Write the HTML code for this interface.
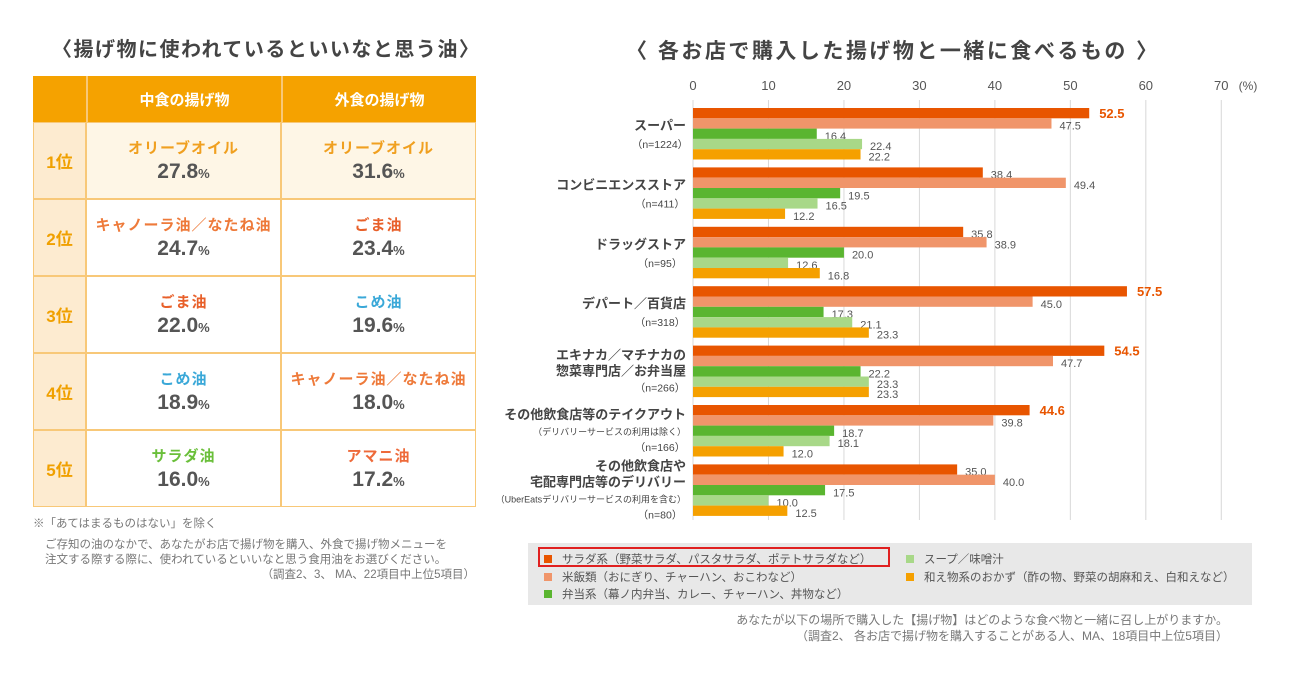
<!DOCTYPE html>
<html><head><meta charset="utf-8">
<style>
body{margin:0;width:1314px;height:682px;background:#fff;font-family:"Liberation Sans","Noto Sans CJK JP",sans-serif;position:relative;overflow:hidden;color:#444}
.a{position:absolute}
.cell{position:absolute;box-sizing:border-box;display:flex;flex-direction:column;align-items:center;justify-content:center;text-align:center}
.nm{font-size:15px;font-weight:bold;letter-spacing:1px}
.vl{font-size:21px;font-weight:bold;color:#555;margin-top:2px}
.vl small{font-size:13px}
.rk{font-size:17px;font-weight:bold;color:#f0a000}
</style></head><body>
<div class="a" style="left:52px;top:33px;font-size:20px;font-weight:bold;color:#444;letter-spacing:1.5px">〈揚げ物に使われているといいなと思う油〉</div>
<div id="tbl"></div>
<div class="a" style="left:33px;top:515px;font-size:11.5px;color:#777">※「あてはまるものはない」を除く</div>
<div class="a" style="left:45px;top:538px;font-size:11.5px;color:#777;line-height:15px;width:430px">ご存知の油のなかで、あなたがお店で揚げ物を購入、外食で揚げ物メニューを<br>注文する際する際に、使われているといいなと思う食用油をお選びください。<div style="text-align:right">（調査2、3、 MA、22項目中上位5項目）</div></div>
<div class="a" style="left:626px;top:35px;font-size:21px;font-weight:bold;color:#444;letter-spacing:2.5px">〈 各お店で購入した揚げ物と一緒に食べるもの 〉</div>
<svg id="chart" class="a" style="left:0;top:0" width="1314" height="682"></svg>
<div class="a" style="left:528px;top:543px;width:724px;height:62px;background:#e8e8e8;font-size:11.5px;color:#555">
 <div class="a" style="left:10px;top:4px;width:352px;height:20px;border:2px solid #e02020;box-sizing:border-box"></div>
 <div class="a" style="left:16px;top:8px"><span style="display:inline-block;width:8px;height:8px;background:#e85500;margin-right:10px"></span>サラダ系（野菜サラダ、パスタサラダ、ポテトサラダなど）</div>
 <div class="a" style="left:16px;top:26px"><span style="display:inline-block;width:8px;height:8px;background:#f0956a;margin-right:10px"></span>米飯類（おにぎり、チャーハン、おこわなど）</div>
 <div class="a" style="left:16px;top:43px"><span style="display:inline-block;width:8px;height:8px;background:#5ab530;margin-right:10px"></span>弁当系（幕ノ内弁当、カレー、チャーハン、丼物など）</div>
 <div class="a" style="left:378px;top:8px"><span style="display:inline-block;width:8px;height:8px;background:#a8d888;margin-right:10px"></span>スープ／味噌汁</div>
 <div class="a" style="left:378px;top:26px"><span style="display:inline-block;width:8px;height:8px;background:#f5a000;margin-right:10px"></span>和え物系のおかず（酢の物、野菜の胡麻和え、白和えなど）</div>
</div>
<div class="a" style="left:600px;top:612px;width:628px;text-align:right;font-size:12px;color:#777;line-height:16px">あなたが以下の場所で購入した【揚げ物】はどのような食べ物と一緒に召し上がりますか。<br>（調査2、 各お店で揚げ物を購入することがある人、MA、18項目中上位5項目）</div>
<script>
// table data
var ranks=["1位","2位","3位","4位","5位"];
var nakaNames=["オリーブオイル","キャノーラ油／なたね油","ごま油","こめ油","サラダ油"];
var nakaVals=["27.8","24.7","22.0","18.9","16.0"];
var sotoNames=["オリーブオイル","ごま油","こめ油","キャノーラ油／なたね油","アマニ油"];
var sotoVals=["31.6","23.4","19.6","18.0","17.2"];
var colorMap={"オリーブオイル":"#f0a020","キャノーラ油／なたね油":"#ee7a3a","ごま油":"#e8602a","こめ油":"#3aa8d8","サラダ油":"#6abf3a","アマニ油":"#ee6a3a"};
(function(){
 var t=document.getElementById('tbl');var h='';
 var top=76,hh=46,rh=77,bc='#f8c878';
 h+='<div class="cell" style="left:33px;top:76px;width:443px;height:46px;background:#f5a200"></div>';
 h+='<div class="cell" style="left:86px;top:76px;width:195px;height:46px;color:#fff;font-size:15px;font-weight:bold;border-left:2px solid #f8c878">中食の揚げ物</div>';
 h+='<div class="cell" style="left:281px;top:76px;width:195px;height:46px;color:#fff;font-size:15px;font-weight:bold;border-left:2px solid #f8c878">外食の揚げ物</div>';
 for(var i=0;i<ranks.length;i++){
  var y=top+hh+i*rh,bg=i==0?'#fef6e6':'#fff';
  h+='<div class="cell rk" style="left:33px;top:'+y+'px;width:53px;height:'+rh+'px;background:#fdebd0;border:1px solid '+bc+'">'+ranks[i]+'</div>';
  h+='<div class="cell" style="left:86px;top:'+y+'px;width:195px;height:'+rh+'px;background:'+bg+';border:1px solid '+bc+'"><div class="nm" style="color:'+colorMap[nakaNames[i]]+'">'+nakaNames[i]+'</div><div class="vl">'+nakaVals[i]+'<small>%</small></div></div>';
  h+='<div class="cell" style="left:281px;top:'+y+'px;width:195px;height:'+rh+'px;background:'+bg+';border:1px solid '+bc+'"><div class="nm" style="color:'+colorMap[sotoNames[i]]+'">'+sotoNames[i]+'</div><div class="vl">'+sotoVals[i]+'<small>%</small></div></div>';
 }
 t.innerHTML=h;
})();
</script>
<script>
var categories=[["スーパー","（n=1224）"],["コンビニエンスストア","（n=411）"],["ドラッグストア","（n=95）"],["デパート／百貨店","（n=318）"],["エキナカ／マチナカの","惣菜専門店／お弁当屋","（n=266）"],["その他飲食店等のテイクアウト","*（デリバリーサービスの利用は除く）","（n=166）"],["その他飲食店や","宅配専門店等のデリバリー","*（UberEatsデリバリーサービスの利用を含む）","（n=80）"]];
var salad=[52.5,38.4,35.8,57.5,54.5,44.6,35.0];
var rice=[47.5,49.4,38.9,45.0,47.7,39.8,40.0];
var bento=[16.4,19.5,20.0,17.3,22.2,18.7,17.5];
var soup=[22.4,16.5,12.6,21.1,23.3,18.1,10.0];
var aemono=[22.2,12.2,16.8,23.3,23.3,12.0,12.5];
var ticks=[0,10,20,30,40,50,60,70];
var seriesNames=["salad","rice","bento","soup","aemono"];
(function(){
 var svg=document.getElementById('chart'),NS='http://www.w3.org/2000/svg';
 var series=[salad,rice,bento,soup,aemono],cols=['#e85500','#f0956a','#5ab530','#a8d888','#f5a000'];
 function x(v){return 693+v*7.547;}
 var g0=108,gs=59.4,bh=10.3;
 function y(i){return g0+i*gs;}
 function el(n,a,txt){var e=document.createElementNS(NS,n);for(var k in a)e.setAttribute(k,a[k]);if(txt!=null)e.textContent=txt;svg.appendChild(e);return e;}
 ticks.forEach(function(t){
  var l=el('line',{x1:x(t),x2:x(t),y1:100,y2:520,stroke:'#d8d8d8','stroke-width':1});
  
  var tx=el('text',{x:x(t),y:90,'text-anchor':'middle','font-size':13,fill:'#555'},t);
  
 });
 var u=el('text',{x:1248,y:90,'text-anchor':'middle','font-size':12,fill:'#555'},'(%)');
 
 categories.forEach(function(lines,i){
  var c=y(i)+26,n=lines.length,sp=16,start=c-(n-1)*sp/2+4;
  if(n==2){start=c-4;}
  lines.forEach(function(s,j){
   var small=s.charAt(0)=='*';if(small)s=s.slice(1);
   var isN=s.indexOf('n=')>=0;
   var t=el('text',{x:isN?660:686,y:start+j*sp+(n==2&&j==1?2:0),'text-anchor':isN?'middle':'end','font-size':small?9:(isN?10.5:13),'font-weight':(small||isN)?'normal':'bold',fill:'#444'},s);
   
  });
  series.forEach(function(arr,k){
   var v=arr[i],by=y(i)+k*bh;
   var r=el('rect',{x:x(0),y:by,width:x(v)-x(0),height:bh,fill:cols[k]});
   
   var hi=(k==0&&v>=40);
   var t=el('text',{x:x(v)+(hi?10:8),y:by+(hi?10:bh+1),'font-size':hi?13:11,'font-weight':hi?'bold':'normal',fill:hi?'#e85500':'#555'},v.toFixed(1));
   
  });
 });
})();
</script>
</body></html>
